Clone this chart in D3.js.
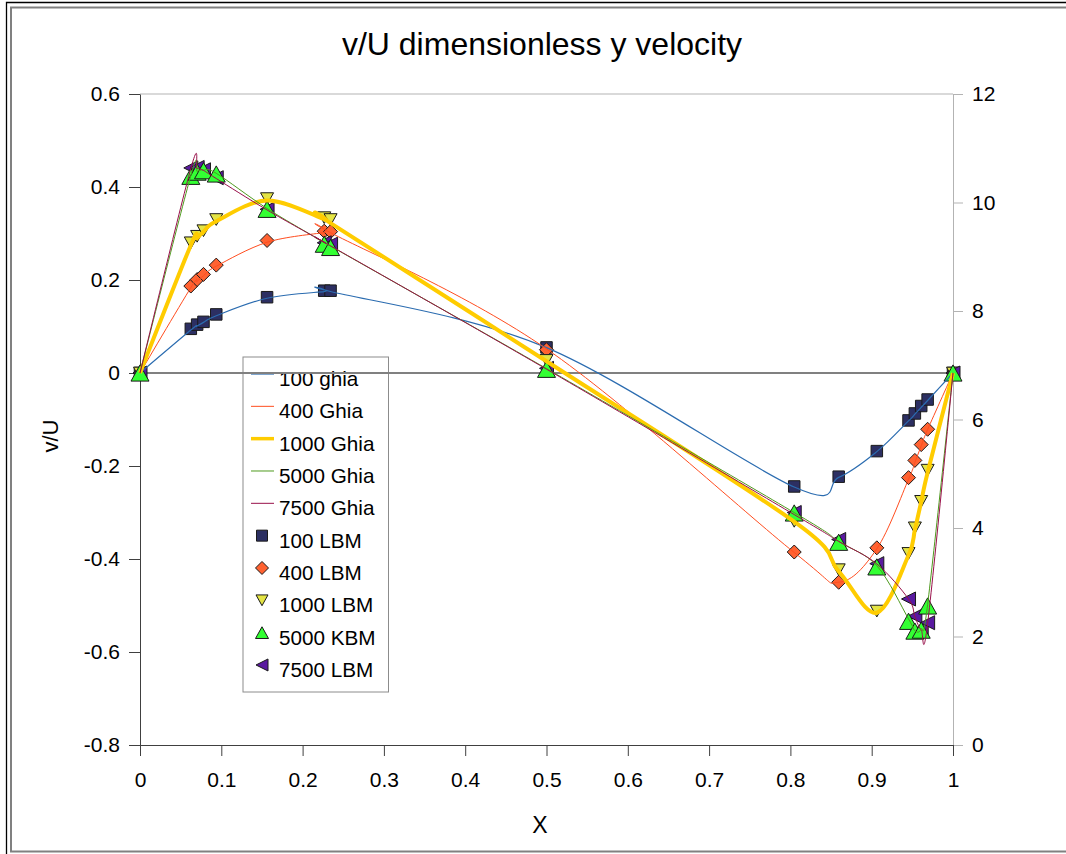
<!DOCTYPE html>
<html>
<head>
<meta charset="utf-8">
<script src="https://cdn.jsdelivr.net/npm/d3@7"></script>
<style>
  body { margin: 0; background: #fff; }
  svg { display: block; }
  text { font-family: "Liberation Sans", Arial, sans-serif; fill: #000; }
</style>
</head>
<body>
<svg id="chart" width="1066" height="854"></svg>
<script>
// x positions along the horizontal centreline (same for Ghia and LBM)
var xs = [0, 0.0625, 0.0703, 0.0781, 0.0938, 0.1563, 0.2266, 0.2344, 0.5,
          0.8047, 0.8594, 0.9063, 0.9453, 0.9531, 0.9609, 0.9688, 1];

// Ghia reference curves
var ghia100  = [0, 0.0923, 0.1009, 0.1089, 0.1232, 0.1608, 0.1751, 0.1753, 0.0545,
                -0.2453, -0.2245, -0.1691, -0.1031, -0.0886, -0.0739, -0.0591, 0];
var ghia400  = [0, 0.1836, 0.1971, 0.2092, 0.2297, 0.2812, 0.3020, 0.3017, 0.0519,
                -0.3860, -0.4499, -0.3780, -0.2285, -0.1925, -0.1566, -0.1215, 0];
var ghia1000 = [0, 0.2749, 0.2901, 0.3035, 0.3263, 0.3710, 0.3308, 0.3224, 0.0253,
                -0.3197, -0.4267, -0.5155, -0.3919, -0.3371, -0.2767, -0.2139, 0];
var ghia5000 = [0, 0.4245, 0.4333, 0.4365, 0.4295, 0.3537, 0.2807, 0.2728, 0.0095,
                -0.3002, -0.3621, -0.4144, -0.5288, -0.5541, -0.5507, -0.4977, 0];
var ghia7500 = [0, 0.4398, 0.4398, 0.4356, 0.4182, 0.3506, 0.2812, 0.2735, 0.0082,
                -0.3045, -0.3621, -0.4105, -0.4859, -0.5235, -0.5522, -0.5386, 0];

// LBM results (markers)
var lbm100  = [0, 0.095, 0.104, 0.110, 0.126, 0.163, 0.177, 0.177, 0.055,
               -0.244, -0.223, -0.168, -0.102, -0.087, -0.071, -0.057, 0];
var lbm400  = [0, 0.187, 0.201, 0.212, 0.232, 0.285, 0.305, 0.304, 0.050,
               -0.385, -0.450, -0.376, -0.225, -0.188, -0.154, -0.121, 0];
var lbm1000 = [0, 0.280, 0.294, 0.306, 0.330, 0.375, 0.334, 0.330, 0.027,
               -0.319, -0.423, -0.512, -0.388, -0.333, -0.276, -0.209, 0];
var lbm5000 = [0, 0.423, 0.432, 0.435, 0.428, 0.352, 0.277, 0.270, 0.008,
               -0.301, -0.364, -0.417, -0.534, -0.555, -0.553, -0.501, 0];
var lbm7500 = [0, 0.441, 0.442, 0.437, 0.420, 0.352, 0.280, 0.277, 0.010,
               -0.300, -0.358, -0.410, -0.486, -0.523, -0.550, -0.537, 0];

var lineNames   = ["100 ghia", "400 Ghia", "1000 Ghia", "5000 Ghia", "7500 Ghia"];
var markerNames = ["100 LBM", "400 LBM", "1000 LBM", "5000 KBM", "7500 LBM"];

var xTicks  = [0, 0.1, 0.2, 0.3, 0.4, 0.5, 0.6, 0.7, 0.8, 0.9, 1];
var xLabels = ["0", "0.1", "0.2", "0.3", "0.4", "0.5", "0.6", "0.7", "0.8", "0.9", "1"];
var yTicks  = [0.6, 0.4, 0.2, 0, -0.2, -0.4, -0.6, -0.8];
var yLabels = ["0.6", "0.4", "0.2", "0", "-0.2", "-0.4", "-0.6", "-0.8"];
var y2Ticks  = [0, 2, 4, 6, 8, 10, 12];
var y2Labels = ["0", "2", "4", "6", "8", "10", "12"];

// styles
var lineColors = ["#2b6cb0", "#ff4d1f", "#ffcc00", "#4e9a1e", "#99104a"];
var lineWidths = [1.2, 1, 4, 1, 1];
var markerFill = ["#2c2f62", "#ff6231", "#e4e444", "#33ff33", "#5a1aa0"];

var svg = d3.select("#chart");
var plotL = 140, plotR = 953, plotT = 94, plotB = 745;

var x = d3.scaleLinear().domain([0, 1]).range([plotL, plotR]);
var y = d3.scaleLinear().domain([-0.8, 0.6]).range([plotB, plotT]);
var y2 = d3.scaleLinear().domain([0, 12]).range([plotB, plotT]);

// marker shapes, size = box width in px
function tri(dir, ratio) {
  return { draw: function(c, w) {
    var a = w / 2, b = w * ratio / 2;
    if (dir === "up") { c.moveTo(0, -b); c.lineTo(a, b); c.lineTo(-a, b); }
    else if (dir === "down") { c.moveTo(0, b); c.lineTo(a, -b); c.lineTo(-a, -b); }
    else { c.moveTo(-a, 0); c.lineTo(a, -b); c.lineTo(a, b); }
    c.closePath();
  }};
}
var squareT = { draw: function(c, w) { c.rect(-w / 2, -w / 2, w, w); } };
var diamondT = { draw: function(c, w) {
  var r = w / 2;
  c.moveTo(0, -r); c.lineTo(r, 0); c.lineTo(0, r); c.lineTo(-r, 0); c.closePath();
}};
var markerTypes = [squareT, diamondT, tri("down", 0.9), tri("up", 0.9), tri("left", 1)];
var markerSizes = [11.5, 14, 13, 18, 14];
var legendSizes = [11, 13, 12, 13, 12];

// outer frame
svg.append("path").attr("d", "M6.5,854V2.5H1066").attr("fill", "none")
  .attr("stroke", "#000").attr("stroke-width", 1.3);
svg.append("path").attr("d", "M1066,7.5H11V851.5H1066").attr("fill", "none")
  .attr("stroke", "#808080").attr("stroke-width", 2);

// title
svg.append("text").attr("x", 542).attr("y", 55).attr("text-anchor", "middle")
  .style("font-size", "32px").text("v/U dimensionless y velocity");

// plot top border
svg.append("line").attr("x1", plotL).attr("x2", plotR).attr("y1", plotT).attr("y2", plotT)
  .attr("stroke", "#b3b3b3");

// right axis
var gR = svg.append("g").attr("transform", "translate(" + plotR + ",0)")
  .call(d3.axisRight(y2).tickValues(y2Ticks).tickSize(10).tickSizeOuter(0).tickPadding(9)
    .tickFormat(function(d, i) { return y2Labels[i]; }));
gR.selectAll("path, line").attr("stroke", "#b3b3b3");

// left axis
var gL = svg.append("g").attr("transform", "translate(" + plotL + ",0)")
  .call(d3.axisLeft(y).tickValues(yTicks).tickSize(11).tickSizeOuter(0).tickPadding(9)
    .tickFormat(function(d, i) { return yLabels[i]; }));
gL.selectAll("path, line").attr("stroke", "#404040");

// bottom axis
var gB = svg.append("g").attr("transform", "translate(0," + plotB + ")")
  .call(d3.axisBottom(x).tickValues(xTicks).tickSize(11).tickSizeOuter(0).tickPadding(16)
    .tickFormat(function(d, i) { return xLabels[i]; }));
gB.selectAll("path, line").attr("stroke", "#404040");

svg.selectAll(".tick text").style("font-size", "21px").attr("fill", "#000")
  .style("font-family", "'Liberation Sans', Arial, sans-serif");

// axis titles
svg.append("text").attr("x", 540).attr("y", 833).attr("text-anchor", "middle")
  .style("font-size", "23px").text("X");
svg.append("text").attr("transform", "translate(58,436) rotate(-90)")
  .attr("text-anchor", "middle").style("font-size", "22px").text("v/U");

// legend
var leg = svg.append("g");
leg.append("rect").attr("x", 243).attr("y", 357).attr("width", 145.5).attr("height", 335)
  .attr("fill", "#fff").attr("stroke", "#8c8c8c");
var rowY = function(i) { return 374 + i * 32.33; };
lineNames.forEach(function(n, i) {
  leg.append("line").attr("x1", 251).attr("x2", 274).attr("y1", rowY(i)).attr("y2", rowY(i))
    .attr("stroke", lineColors[i]).attr("stroke-width", Math.min(lineWidths[i], 3.5));
  leg.append("text").attr("x", 279).attr("y", rowY(i) + 12).style("font-size", "20.7px").text(n);
});
markerNames.forEach(function(n, i) {
  var yy = rowY(i + 5);
  leg.append("path").attr("transform", "translate(262," + yy + ")")
    .attr("d", d3.symbol().type(markerTypes[i]).size(legendSizes[i])())
    .attr("fill", markerFill[i]).attr("stroke", "#1a1a1a").attr("stroke-width", 1);
  leg.append("text").attr("x", 279).attr("y", yy + 12).style("font-size", "20.7px").text(n);
});

// zero line
svg.append("line").attr("x1", x(0)).attr("x2", x(1)).attr("y1", y(0)).attr("y2", y(0))
  .attr("stroke", "#808080").attr("stroke-width", 2);

// LBM markers (purple drawn before green)
var lbm = [lbm100, lbm400, lbm1000, lbm5000, lbm7500];
[0, 1, 2, 4, 3].forEach(function(k) {
  svg.append("g").selectAll("path").data(lbm[k]).join("path")
    .attr("transform", function(d, i) { return "translate(" + x(xs[i]) + "," + y(d) + ")"; })
    .attr("d", d3.symbol().type(markerTypes[k]).size(markerSizes[k])())
    .attr("fill", markerFill[k]).attr("stroke", "#1a1a1a").attr("stroke-width", 1);
});

// Ghia smoothed lines
var ghia = [ghia100, ghia400, ghia1000, ghia5000, ghia7500];
var line = d3.line()
  .x(function(d, i) { return x(xs[i]); })
  .y(function(d) { return y(d); })
  .curve(d3.curveCardinal.tension(0));
ghia.forEach(function(vals, k) {
  svg.append("path").datum(vals).attr("d", line).attr("fill", "none")
    .attr("stroke", lineColors[k]).attr("stroke-width", lineWidths[k]);
});
</script>
</body>
</html>
